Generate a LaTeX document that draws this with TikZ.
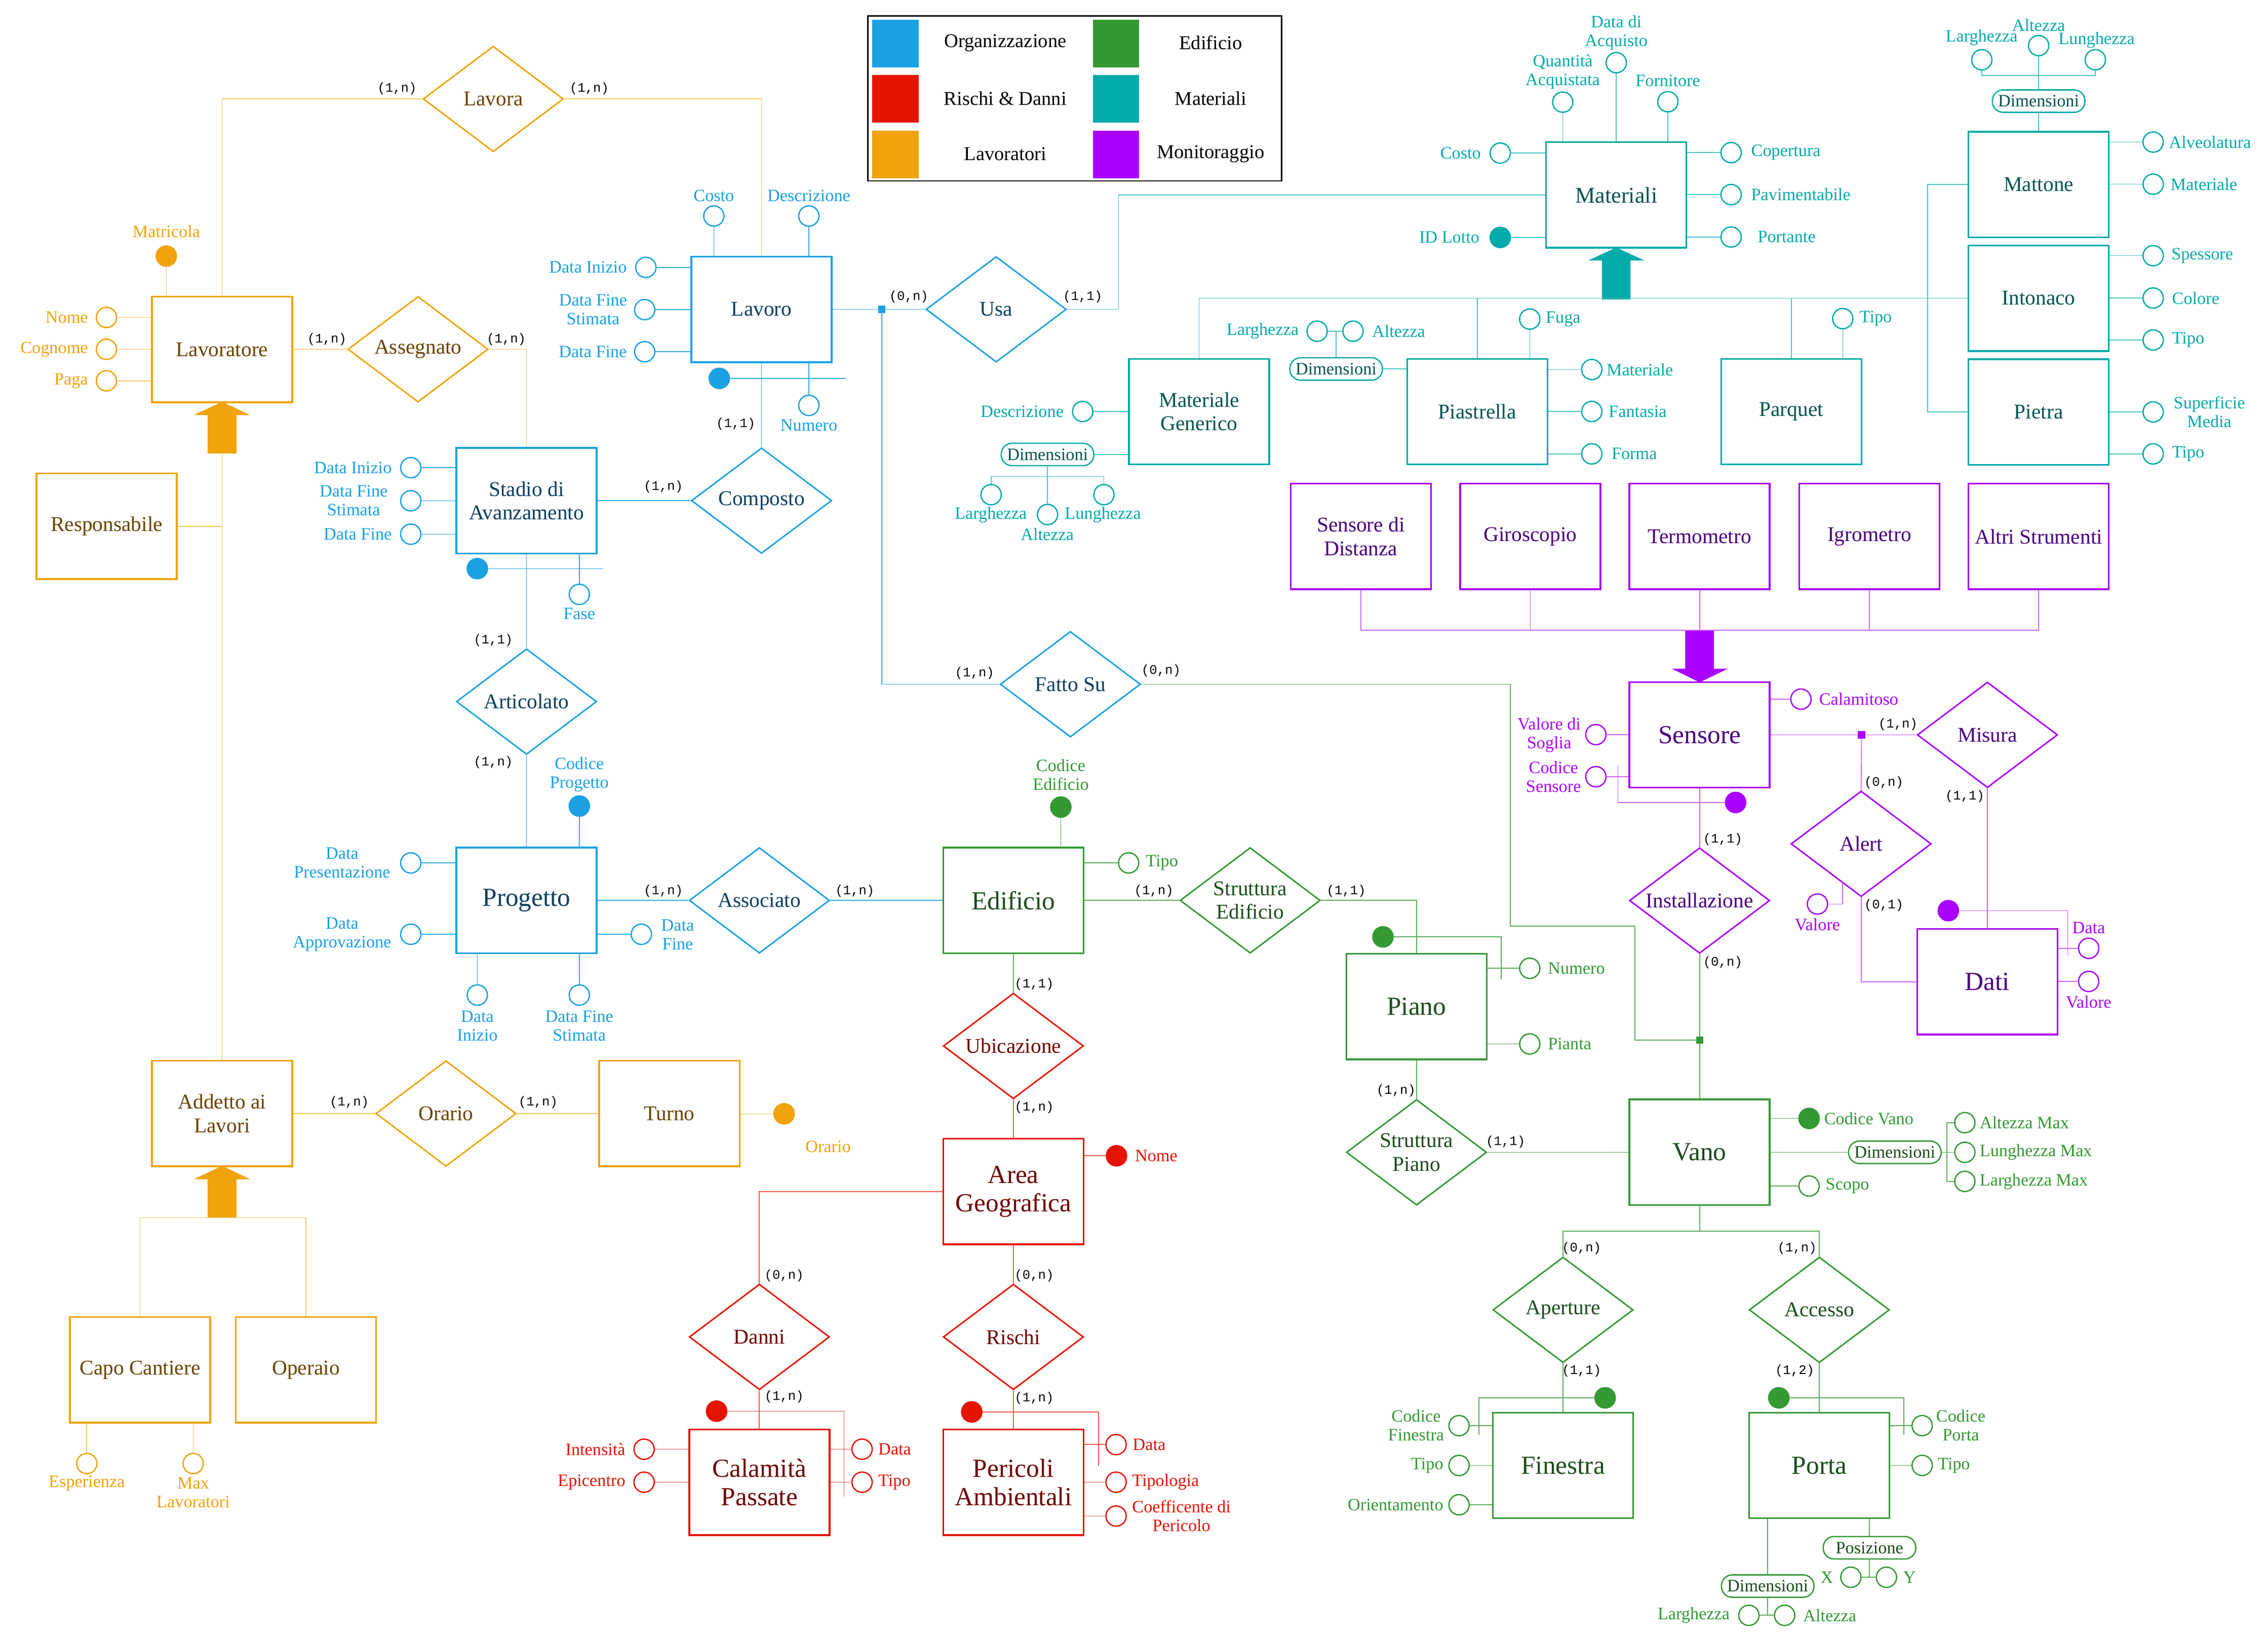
\documentclass[tikz,border=0pt]{standalone}
\usepackage{fontspec}
\setmainfont{Liberation Serif}
\newfontfamily\cardfont{Liberation Mono}
\usetikzlibrary{shapes.geometric}
\definecolor{cB}{HTML}{1BA1E2}
\definecolor{cBT}{HTML}{0D3F5F}
\definecolor{cO}{HTML}{F0A30A}
\definecolor{cOT}{HTML}{6B4300}
\definecolor{cR}{HTML}{E51400}
\definecolor{cRT}{HTML}{6F0000}
\definecolor{cG}{HTML}{339933}
\definecolor{cGT}{HTML}{1B4D1B}
\definecolor{cT}{HTML}{00ABA9}
\definecolor{cTT}{HTML}{005453}
\definecolor{cP}{HTML}{AA00FF}
\definecolor{cPT}{HTML}{4A0080}
\colorlet{cBL}{cB!90!white}
\colorlet{cOL}{cO!60!white}
\colorlet{cRL}{cR!70!white}
\colorlet{cGL}{cG!80!white}
\colorlet{cTL}{cT!70!white}
\colorlet{cPL}{cP!60!white}
\newcommand{\fEnt}{\fontsize{14.5}{16.2}\selectfont}
\newcommand{\fBig}{\fontsize{18}{19.6}\selectfont}
\newcommand{\fAtt}{\fontsize{12}{13}\selectfont}
\newcommand{\fCard}{\cardfont\fontsize{9}{10}\selectfont}
\newcommand{\fLeg}{\fontsize{13.5}{15}\selectfont}
\newcommand{\ERatt}[7]{\node[#1=#2] (#3) at (#4) {}; \node[lab=#2, anchor=#5] (#3L) at (#6) {#7};}
\tikzset{
 ent/.style={rectangle, draw=c#1, text=c#1T, line width=1.2pt, minimum width=97pt, minimum height=73pt, inner sep=0pt, align=center, font=\fEnt},
 big/.style={font=\fBig},
 rel/.style={diamond, draw=c#1, text=c#1T, line width=1pt, minimum width=97pt, minimum height=73pt, inner sep=0pt, aspect=1.33, align=center, font=\fEnt},
 att/.style={circle, draw=c#1, fill=white, line width=0.9pt, minimum size=14pt, inner sep=0pt},
 idf/.style={circle, draw=c#1, fill=c#1, line width=0.9pt, minimum size=14pt, inner sep=0pt},
 lab/.style={text=c#1, font=\fAtt, inner sep=0pt, align=center},
 dimb/.style={draw=c#1, text=c#1T, rounded corners=7.5pt, minimum width=64pt, minimum height=15.5pt, inner sep=0pt, line width=0.9pt, font=\fAtt},
 card/.style={font=\fCard, inner sep=0pt, text=black},
 ln/.style={draw=c#1L, line width=0.6pt},
 sq/.style={rectangle, fill=c#1, minimum size=5pt, inner sep=0pt},
 sw/.style={rectangle, fill=c#1, minimum width=32pt, minimum height=33pt, inner sep=0pt},
 leg/.style={font=\fLeg, inner sep=0pt, text=black},
}
\begin{document}
\begin{tikzpicture}[x=1pt,y=-1pt]
\fill[white] (0,0) rectangle (1568,1134);
\useasboundingbox (0,0) rectangle (1568,1134);

% ---------- legend
\node[draw=black, line width=1pt, minimum width=286pt, minimum height=114pt, inner sep=0pt] (legend) at (743,68) {};
\node[sw=B] (swB) at (619,30) {};
\node[sw=R] (swR) at (619,68.4) {};
\node[sw=O] (swO) at (619,106.9) {};
\node[sw=G] (swG) at (771.5,30) {};
\node[sw=T] (swT) at (771.5,68.4) {};
\node[sw=P] (swP) at (771.5,106.9) {};
\node[leg] (lgB) at (695,29.6) {Organizzazione};
\node[leg] (lgR) at (695,68) {Rischi \& Danni};
\node[leg] (lgO) at (695,106.5) {Lavoratori};
\node[leg] (lgG) at (837,29.6) {Edificio};
\node[leg] (lgT) at (837,68) {Materiali};
\node[leg] (lgP) at (837,106.5) {Monitoraggio};

% ---------- orange
\node[ent=O] (lavoratore) at (153.5,241.5) {Lavoratore};
\node[ent=O] (respons) at (73.7,363.7) {Responsabile};
\node[ent=O] (addetto) at (153.5,769.6) {Addetto ai\\Lavori};
\node[ent=O] (turno) at (462.8,769.6) {Turno};
\node[ent=O] (capo) at (96.8,946.8) {Capo Cantiere};
\node[ent=O] (operaio) at (211.5,946.8) {Operaio};
\node[rel=O] (lavora) at (341,68.4) {Lavora};
\node[rel=O] (assegnato) at (289,241.4) {Assegnato};
\node[rel=O] (orario) at (308.3,769.6) {Orario};

% ---------- blue
\node[ent=B] (lavoro) at (526.5,213.8) {Lavoro};
\node[ent=B] (stadio) at (364,346) {Stadio di\\Avanzamento};
\node[ent=B, big] (progetto) at (364,622.3) {Progetto};
\node[rel=B] (composto) at (526.5,346) {Composto};
\node[rel=B] (articolato) at (364,484.9) {Articolato};
\node[rel=B] (associato) at (525,622.3) {Associato};
\node[rel=B] (usa) at (688.7,213.8) {Usa};
\node[rel=B] (fattosu) at (740,472.9) {Fatto Su};

% ---------- green
\node[ent=G, big] (edificio) at (700.6,622.3) {Edificio};
\node[ent=G, big] (piano) at (979.3,695.7) {Piano};
\node[ent=G, big] (vano) at (1175,796.4) {Vano};
\node[ent=G, big] (finestra) at (1080.6,1012.8) {Finestra};
\node[ent=G, big] (porta) at (1257.8,1012.8) {Porta};
\node[rel=G] (strEd) at (864.3,622.3) {Struttura\\Edificio};
\node[rel=G] (strPiano) at (979.3,796.4) {Struttura\\Piano};
\node[rel=G] (aperture) at (1080.6,905.3) {Aperture};
\node[rel=G] (accesso) at (1257.8,905.3) {Accesso};

% ---------- red
\node[ent=R, big] (area) at (700.6,823.5) {Area\\Geografica};
\node[ent=R, big] (calamita) at (525,1024.4) {Calamità\\Passate};
\node[ent=R, big] (pericoli) at (700.6,1024.4) {Pericoli\\Ambientali};
\node[rel=R] (ubicazione) at (700.6,722.9) {Ubicazione};
\node[rel=R] (danni) at (525,924) {Danni};
\node[rel=R] (rischi) at (700.6,924) {Rischi};

% ---------- teal
\node[ent=T, font=\fontsize{15.5}{17}\selectfont] (materiali) at (1117.4,134.8) {Materiali};
\node[ent=T] (matgen) at (829,284.5) {Materiale\\Generico};
\node[ent=T] (piastrella) at (1021.3,284.5) {Piastrella};
\node[ent=T] (parquet) at (1238.4,284.5) {Parquet};
\node[ent=T] (mattone) at (1409.4,127.5) {Mattone};
\node[ent=T] (intonaco) at (1409.4,206.1) {Intonaco};
\node[ent=T] (pietra) at (1409.4,284.7) {Pietra};

% ---------- purple
\node[ent=P] (sdist) at (940.8,370.8) {Sensore di\\Distanza};
\node[ent=P] (giro) at (1058,370.8) {Giroscopio};
\node[ent=P] (termo) at (1175,370.8) {Termometro};
\node[ent=P] (igro) at (1292.4,370.8) {Igrometro};
\node[ent=P] (altri) at (1409.4,370.8) {Altri Strumenti};
\node[ent=P, big] (sensore) at (1175,507.9) {Sensore};
\node[ent=P, big] (dati) at (1374,678.5) {Dati};
\node[rel=P] (installazione) at (1175,622.4) {Installazione};
\node[rel=P] (misura) at (1374,507.9) {Misura};
\node[rel=P] (alert) at (1286.7,583.2) {Alert};

% ---------- attributes orange
\ERatt{idf}{O}{matricola}{115,177}{center}{115,160}{Matricola}
\ERatt{att}{O}{nome}{73.6,219.4}{east}{61,219.4}{Nome}
\ERatt{att}{O}{cognome}{73.6,241.4}{east}{61,241.4}{Cognome}
\ERatt{att}{O}{paga}{73.6,263.2}{east}{61,263.2}{Paga}
\ERatt{idf}{O}{orarioA}{542.1,769.8}{center}{572.5,792.4}{Orario}
\ERatt{att}{O}{esper}{60,1011.5}{center}{60,1025.2}{Esperienza}
\ERatt{att}{O}{maxlav}{133.6,1011.5}{center}{133.6,1031.6}{Max\\Lavoratori}

% ---------- attributes blue
\ERatt{att}{B}{costo}{493.5,149.3}{center}{493.5,135.4}{Costo}
\ERatt{att}{B}{descr}{559.2,149.3}{center}{559.2,135.4}{Descrizione}
\ERatt{att}{B}{lDI}{446.5,184.8}{east}{433.5,184.8}{Data Inizio}
\ERatt{att}{B}{lDFS}{445.7,214}{center}{410,214}{Data Fine\\Stimata}
\ERatt{att}{B}{lDF}{445.7,243.1}{east}{433.5,243.1}{Data Fine}
\ERatt{att}{B}{numero}{559.2,280.2}{center}{559.2,293.9}{Numero}
\node[idf=B] (lavId) at (497.3,261.5) {};
\ERatt{att}{B}{sDI}{284,323.2}{east}{271,323.2}{Data Inizio}
\ERatt{att}{B}{sDFS}{284,346.1}{center}{244.5,346}{Data Fine\\Stimata}
\ERatt{att}{B}{sDF}{284,369.2}{east}{271,369.2}{Data Fine}
\node[idf=B] (stId) at (330,393) {};
\ERatt{att}{B}{fase}{400.5,410.8}{center}{400.5,424.2}{Fase}
\ERatt{idf}{B}{codProg}{400.5,557.1}{center}{400.5,535.4}{Codice\\Progetto}
\ERatt{att}{B}{dPres}{284,596.4}{center}{236.5,596.4}{Data\\Presentazione}
\ERatt{att}{B}{dAppr}{284,645.7}{center}{236.5,645.9}{Data\\Approvazione}
\ERatt{att}{B}{pDF}{443.4,645.7}{center}{468.5,645.9}{Data\\Fine}
\ERatt{att}{B}{pDI}{330,687.7}{center}{330,709}{Data\\Inizio}
\ERatt{att}{B}{pDFS}{400.5,687.7}{center}{400.5,709}{Data Fine\\Stimata}

% ---------- attributes green
\ERatt{idf}{G}{codEd}{733.4,557.8}{center}{733.4,535.4}{Codice\\Edificio}
\ERatt{att}{G}{edTipo}{780.3,596.4}{west}{792,596.4}{Tipo}
\node[idf=G] (pianoId) at (956.1,647.5) {};
\ERatt{att}{G}{numP}{1057.6,669.2}{west}{1070,669.2}{Numero}
\ERatt{att}{G}{pianta}{1057.6,721.5}{west}{1070,721.5}{Pianta}
\ERatt{idf}{G}{codVano}{1250.7,773}{west}{1261,773}{Codice Vano}
\node[dimb=G] (dimV) at (1310,796.4) {Dimensioni};
\ERatt{att}{G}{altMax}{1358.4,775.9}{west}{1368.5,775.9}{Altezza Max}
\ERatt{att}{G}{lunMax}{1358.4,796.4}{west}{1368.5,796.4}{Lunghezza Max}
\ERatt{att}{G}{larMax}{1358.4,816.5}{west}{1368.5,816.5}{Larghezza Max}
\ERatt{att}{G}{scopo}{1250.7,819.7}{west}{1262,819.7}{Scopo}
\node[idf=G] (finId) at (1109.7,966.1) {};
\ERatt{att}{G}{codFin}{1008.7,985.3}{center}{979,985.2}{Codice\\Finestra}
\ERatt{att}{G}{finTipo}{1008.7,1012.8}{east}{998,1012.8}{Tipo}
\ERatt{att}{G}{orient}{1008.7,1040}{east}{998,1040}{Orientamento}
\node[idf=G] (portaId) at (1229.8,966.1) {};
\ERatt{att}{G}{codPorta}{1328.9,985.3}{center}{1355.6,985.2}{Codice\\Porta}
\ERatt{att}{G}{portaTipo}{1328.9,1012.8}{west}{1339.5,1012.8}{Tipo}
\node[dimb=G] (posiz) at (1292.5,1069.7) {Posizione};
\ERatt{att}{G}{px}{1279.6,1090.1}{center}{1263,1090.1}{X}
\ERatt{att}{G}{py}{1304.2,1090.1}{center}{1320.2,1090.1}{Y}
\node[dimb=G] (dimP) at (1222.1,1096.2) {Dimensioni};
\ERatt{att}{G}{plar}{1209.1,1116.4}{east}{1196,1116.4}{Larghezza}
\ERatt{att}{G}{palt}{1233.8,1116.4}{west}{1246.5,1116.4}{Altezza}

% ---------- attributes red
\ERatt{idf}{R}{nomeA}{771.9,798.8}{west}{784.5,798.8}{Nome}
\node[idf=R] (calId) at (495.4,975.3) {};
\ERatt{att}{R}{calData}{596,1001.6}{west}{607,1001.6}{Data}
\ERatt{att}{R}{calTipo}{596,1024.4}{west}{607,1024.4}{Tipo}
\ERatt{att}{R}{intens}{445.3,1001.6}{east}{432.5,1001.6}{Intensità}
\ERatt{att}{R}{epic}{445.3,1024.4}{east}{432.5,1024.4}{Epicentro}
\node[idf=R] (perId) at (671.8,975.8) {};
\ERatt{att}{R}{perData}{771.6,998.4}{west}{783,998.4}{Data}
\ERatt{att}{R}{tipol}{771.6,1024.4}{west}{782.5,1024.4}{Tipologia}
\ERatt{att}{R}{coeff}{771.6,1047.8}{center}{816.8,1047.6}{Coefficente di\\Pericolo}

% ---------- attributes teal
\ERatt{att}{T}{mCosto}{1037.2,105.8}{east}{1024,105.8}{Costo}
\ERatt{idf}{T}{idLotto}{1037.2,164.1}{east}{1023,164.1}{ID Lotto}
\ERatt{att}{T}{quant}{1080.4,70.6}{center}{1080.4,49.6}{Quantità\\Acquistata}
\ERatt{att}{T}{dataAcq}{1117.4,43.3}{center}{1117.4,22.6}{Data di\\Acquisto}
\ERatt{att}{T}{fornit}{1153.1,70.3}{center}{1153.1,55.8}{Fornitore}
\ERatt{att}{T}{copert}{1196.8,105.5}{west}{1210.5,105.5}{Copertura}
\ERatt{att}{T}{pavim}{1196.8,134.5}{west}{1210.5,134.5}{Pavimentabile}
\ERatt{att}{T}{portante}{1196.8,163.8}{west}{1215,163.8}{Portante}
\ERatt{att}{T}{mgDescr}{748.5,284.4}{east}{735.5,284.4}{Descrizione}
\node[dimb=T] (dimMG) at (724.2,314.1) {Dimensioni};
\ERatt{att}{T}{mgLar}{685.2,341.9}{center}{685,355.8}{Larghezza}
\ERatt{att}{T}{mgLun}{763.2,341.9}{center}{762.5,355.8}{Lunghezza}
\ERatt{att}{T}{mgAlt}{724.2,355.6}{center}{724,369.5}{Altezza}
\node[dimb=T] (dimPi) at (923.7,255) {Dimensioni};
\ERatt{att}{T}{piLar}{910.6,228.9}{east}{898,228.9}{Larghezza}
\ERatt{att}{T}{piAlt}{935.4,228.9}{west}{948.4,228.9}{Altezza}
\ERatt{att}{T}{fuga}{1057.6,220.5}{west}{1068.5,220.5}{Fuga}
\ERatt{att}{T}{piMat}{1100.5,255.4}{west}{1110.5,255.4}{Materiale}
\ERatt{att}{T}{fantasia}{1100.5,284.4}{west}{1112,284.4}{Fantasia}
\ERatt{att}{T}{forma}{1100.5,313.7}{west}{1114,313.7}{Forma}
\ERatt{att}{T}{parTipo}{1274,220.2}{west}{1285.5,220.2}{Tipo}
\node[dimb=T] (dimMa) at (1409.4,69.9) {Dimensioni};
\ERatt{att}{T}{maLar}{1370.1,41.3}{center}{1370,26}{Larghezza}
\ERatt{att}{T}{maAlt}{1409.4,31.5}{center}{1409.4,17.6}{Altezza}
\ERatt{att}{T}{maLun}{1448.6,41.3}{center}{1449.5,27.9}{Lunghezza}
\ERatt{att}{T}{alveo}{1488.6,98.2}{west}{1499.4,98.2}{Alveolatura}
\ERatt{att}{T}{maMat}{1488.6,127.3}{west}{1500.5,127.3}{Materiale}
\ERatt{att}{T}{spess}{1488.6,176.7}{west}{1501,176.7}{Spessore}
\ERatt{att}{T}{colore}{1488.6,206}{west}{1501.5,206}{Colore}
\ERatt{att}{T}{inTipo}{1488.6,235}{west}{1501.5,235}{Tipo}
\ERatt{att}{T}{superf}{1488.6,284.7}{center}{1527.4,284.6}{Superficie\\Media}
\ERatt{att}{T}{piTipo}{1488.6,313.7}{west}{1501.5,313.7}{Tipo}

% ---------- attributes purple
\ERatt{att}{P}{calam}{1245.1,483.2}{west}{1257.5,483.2}{Calamitoso}
\ERatt{att}{P}{soglia}{1103.3,507.7}{center}{1071,508}{Valore di\\Soglia}
\ERatt{att}{P}{codSens}{1103.3,536.8}{center}{1074,537}{Codice\\Sensore}
\node[idf=P] (sensId) at (1199.9,554.6) {};
\ERatt{att}{P}{alVal}{1256.5,624.8}{center}{1256.5,639}{Valore}
\node[idf=P] (datiId) at (1347,629.4) {};
\ERatt{att}{P}{datiData}{1444,655.4}{center}{1444,641.3}{Data}
\ERatt{att}{P}{datiVal}{1444,678.3}{center}{1444,692.4}{Valore}

% ---------- junction squares and coordinates
\node[sq=B] (jB) at (609.5,213.8) {};
\node[sq=G] (jG) at (1175,718.8) {};
\node[sq=P] (jP) at (1287,507.9) {};
\coordinate (gen1) at (153.5,313.4);
\coordinate (gen2) at (153.5,841.6);
\coordinate (tJ) at (1117.4,206.1);
\coordinate (tV) at (1332.6,206.1);
\coordinate (sJ) at (1175,435.7);
\coordinate (vJ) at (1175,850.8);
\coordinate (lavIdE) at (584.7,261.5);
\coordinate (stIdE) at (417.2,393);
\coordinate (piIdC) at (1037.8,677);
\coordinate (finIdC) at (1022.4,991.6);
\coordinate (poIdC) at (1316.2,991.6);
\coordinate (calIdC) at (583.5,1034.4);
\coordinate (perIdC) at (759.5,1013);
\coordinate (seIdC) at (1118.6,529.6);
\coordinate (daIdC) at (1429.5,660.3);
\coordinate (alVC) at (1273.8,609.6);
\coordinate (mgJ) at (724.2,329.3);
\coordinate (maJ) at (1409.4,52.2);
\coordinate (fs1) at (1044.2,472.9);
\coordinate (fs2) at (1130.3,640);

% ---------- generalisation arrows
\fill[cO] (143.5,313.4) -- (143.5,286.9) -- (134,286.9) -- (153.5,277.7) -- (173,286.9) -- (163.5,286.9) -- (163.5,313.4) -- cycle;
\fill[cO] (143.5,841.6) -- (143.5,815) -- (134,815) -- (153.5,805.8) -- (173,815) -- (163.5,815) -- (163.5,841.6) -- cycle;
\fill[cT] (1107.6,207) -- (1107.6,180) -- (1098,180) -- (1117.4,171.1) -- (1136.8,180) -- (1127.3,180) -- (1127.3,207) -- cycle;
\fill[cP] (1165.1,435.8) -- (1165.1,462.2) -- (1155.9,462.2) -- (1175,471.6) -- (1194.5,462.2) -- (1184.9,462.2) -- (1184.9,435.8) -- cycle;

% ---------- attribute connectors
\foreach \a in {nome,cognome,paga} \draw[ln=O] (\a) -- (\a -| lavoratore.west);
\draw[ln=O] (matricola) -- (matricola |- lavoratore.north);
\draw[ln=O] (orarioA) -- (orarioA -| turno.east);
\draw[ln=O] (esper) -- (esper |- capo.south);
\draw[ln=O] (maxlav) -- (maxlav |- capo.south);

\foreach \a in {costo,descr} \draw[ln=B] (\a) -- (\a |- lavoro.north);
\foreach \a in {lDI,lDFS,lDF} \draw[ln=B] (\a) -- (\a -| lavoro.west);
\draw[ln=B] (numero) -- (numero |- lavoro.south);
\draw[ln=B] (lavId) -- (lavIdE);
\foreach \a in {sDI,sDFS,sDF} \draw[ln=B] (\a) -- (\a -| stadio.west);
\draw[ln=B] (stId) -- (stIdE);
\draw[ln=B] (fase) -- (fase |- stadio.south);
\draw[ln=B] (codProg) -- (codProg |- progetto.north);
\foreach \a in {dPres,dAppr} \draw[ln=B] (\a) -- (\a -| progetto.west);
\draw[ln=B] (pDF) -- (pDF -| progetto.east);
\foreach \a in {pDI,pDFS} \draw[ln=B] (\a) -- (\a |- progetto.south);

\draw[ln=G] (codEd) -- (codEd |- edificio.north);
\draw[ln=G] (edTipo) -- (edTipo -| edificio.east);
\draw[ln=G] (pianoId) -| (piIdC);
\foreach \a in {numP,pianta} \draw[ln=G] (\a) -- (\a -| piano.east);
\foreach \a in {codVano,scopo} \draw[ln=G] (\a) -- (\a -| vano.east);
\draw[ln=G] (vano.east) -- (dimV.west);
\draw[ln=G] (dimV.east) -- (lunMax);
\draw[ln=G] (altMax.west) -- ++(-5,0) |- (larMax.west);
\draw[ln=G] (finId) -| (finIdC);
\foreach \a in {codFin,finTipo,orient} \draw[ln=G] (\a) -- (\a -| finestra.west);
\draw[ln=G] (portaId) -| (poIdC);
\foreach \a in {codPorta,portaTipo} \draw[ln=G] (\a) -- (\a -| porta.east);
\draw[ln=G] (posiz.north |- porta.south) -- (posiz.north);
\draw[ln=G] (posiz.south) -- (posiz.south |- px);
\draw[ln=G] (px) -- (py);
\draw[ln=G] (dimP.north |- porta.south) -- (dimP.north);
\draw[ln=G] (dimP.south) -- (dimP.south |- plar);
\draw[ln=G] (plar) -- (palt);

\draw[ln=R] (nomeA) -- (nomeA -| area.east);
\draw[ln=R] (calId) -| (calIdC);
\foreach \a in {calData,calTipo} \draw[ln=R] (\a) -- (\a -| calamita.east);
\foreach \a in {intens,epic} \draw[ln=R] (\a) -- (\a -| calamita.west);
\draw[ln=R] (perId) -| (perIdC);
\foreach \a in {perData,tipol,coeff} \draw[ln=R] (\a) -- (\a -| pericoli.east);

\foreach \a in {mCosto,idLotto} \draw[ln=T] (\a) -- (\a -| materiali.west);
\foreach \a in {quant,dataAcq,fornit} \draw[ln=T] (\a) -- (\a |- materiali.north);
\foreach \a in {copert,pavim,portante} \draw[ln=T] (\a) -- (\a -| materiali.east);
\draw[ln=T] (mgDescr) -- (mgDescr -| matgen.west);
\draw[ln=T] (dimMG.east) -- (dimMG.east -| matgen.west);
\draw[ln=T] (dimMG.south) -- (mgJ) -- (mgAlt);
\draw[ln=T] (mgLar) -- (mgLar |- mgJ) -- (mgLun |- mgJ) -- (mgLun);
\draw[ln=T] (dimPi.east) -- (dimPi.east -| piastrella.west);
\draw[ln=T] (dimPi.north) -- (dimPi.north |- piLar);
\draw[ln=T] (piLar) -- (piAlt);
\draw[ln=T] (fuga) -- (fuga |- piastrella.north);
\foreach \a in {piMat,fantasia,forma} \draw[ln=T] (\a) -- (\a -| piastrella.east);
\draw[ln=T] (parTipo) -- (parTipo |- parquet.north);
\draw[ln=T] (dimMa.south) -- (mattone.north);
\draw[ln=T] (dimMa.north) -- (maJ) -- (maAlt);
\draw[ln=T] (maLar) -- (maLar |- maJ) -- (maLun |- maJ) -- (maLun);
\foreach \a in {alveo,maMat} \draw[ln=T] (\a) -- (\a -| mattone.east);
\foreach \a in {spess,colore,inTipo} \draw[ln=T] (\a) -- (\a -| intonaco.east);
\foreach \a in {superf,piTipo} \draw[ln=T] (\a) -- (\a -| pietra.east);

\draw[ln=P] (calam) -- (calam -| sensore.east);
\foreach \a in {soglia,codSens} \draw[ln=P] (\a) -- (\a -| sensore.west);
\draw[ln=P] (sensId) -| (seIdC);
\draw[ln=P] (alVal) -| (alVC);
\draw[ln=P] (datiId) -| (daIdC);
\foreach \a in {datiData,datiVal} \draw[ln=P] (\a) -- (\a -| dati.east);

% ---------- relationship connectors
\draw[ln=O] (lavora.west) -| (lavoratore.north);
\draw[ln=O] (lavora.east) -| (lavoro.north);
\draw[ln=O] (lavoratore.east) -- (assegnato.west);
\draw[ln=O] (assegnato.east) -| (stadio.north);
\draw[ln=O] (gen1) -- (addetto.north);
\draw[ln=O] (respons.east) -- (respons.east -| gen1);
\draw[ln=O] (addetto.east) -- (orario.west);
\draw[ln=O] (orario.east) -- (turno.west);
\draw[ln=O] (capo.north) |- (operaio.north |- gen2) -- (operaio.north);

\draw[ln=B] (lavoro.east) -- (usa.west);
\draw[ln=B] (jB) |- (fattosu.west);
\draw[ln=T] (usa.east) -- ++(35.6,0) |- (materiali.west);
\draw[ln=B] (lavoro.south) -- (composto.north);
\draw[ln=B] (stadio.east) -- (composto.west);
\draw[ln=B] (stadio.south) -- (articolato.north);
\draw[ln=B] (articolato.south) -- (progetto.north);
\draw[ln=B] (progetto.east) -- (associato.west);
\draw[ln=B] (associato.east) -- (edificio.west);

\draw[ln=G] (fattosu.east) -- (fs1) |- (fs2) |- (jG);
\draw[ln=G] (edificio.east) -- (strEd.west);
\draw[ln=G] (strEd.east) -| (piano.north);
\draw[ln=G] (piano.south) -- (strPiano.north);
\draw[ln=G] (strPiano.east) -- (vano.west);
\draw[ln=P] (sensore.south) -- (installazione.north);
\draw[ln=G] (installazione.south) -- (vano.north);
\draw[ln=G] (vano.south) -- (vJ);
\draw[ln=G] (aperture.north) |- (vJ);
\draw[ln=G] (accesso.north) |- (vJ);
\draw[ln=G] (aperture.south) -- (finestra.north);
\draw[ln=G] (accesso.south) -- (porta.north);
\draw[ln=G] (edificio.south) -- (ubicazione.north);

\draw[ln=R] (ubicazione.south) -- (area.north);
\draw[ln=R] (area.west) -| (danni.north);
\draw[ln=R] (danni.south) -- (calamita.north);
\draw[ln=R] (area.south) -- (rischi.north);
\draw[ln=R] (rischi.south) -- (pericoli.north);

\draw[ln=T] (matgen.north) |- (tV);
\draw[ln=T] (piastrella.north) -- (piastrella.north |- tJ);
\draw[ln=T] (parquet.north) -- (parquet.north |- tJ);
\draw[ln=T] (mattone.west) -| (tV |- pietra.west) -- (pietra.west);
\draw[ln=T] (intonaco.west) -- (intonaco.west -| tV);

\draw[ln=P] (sdist.south) |- (altri.south |- sJ) -- (altri.south);
\foreach \s in {giro,termo,igro} \draw[ln=P] (\s.south) -- (\s.south |- sJ);
\draw[ln=P] (sensore.east) -- (misura.west);
\draw[ln=P] (jP) -- (alert.north);
\draw[ln=P] (misura.south) -- (dati.north);
\draw[ln=P] (alert.south) |- (dati.west);

% redraw junction squares on top
\node[sq=B] (jB2) at (jB) {};
\node[sq=G] (jG2) at (jG) {};
\node[sq=P] (jP2) at (jP) {};

% ---------- cardinalities
\node[card] (k1) at (274.5,61.4) {(1,n)};
\node[card] (k2) at (407.4,61.4) {(1,n)};
\node[card] (k3) at (226,234.4) {(1,n)};
\node[card] (k4) at (350,234.4) {(1,n)};
\node[card] (k5) at (241.5,762) {(1,n)};
\node[card] (k6) at (372,762) {(1,n)};
\node[card] (k7) at (628.3,205.1) {(0,n)};
\node[card] (k8) at (748.5,205.1) {(1,1)};
\node[card] (k9) at (508.7,293) {(1,1)};
\node[card] (k10) at (458.6,336.3) {(1,n)};
\node[card] (k11) at (341,442.5) {(1,1)};
\node[card] (k12) at (341,527) {(1,n)};
\node[card] (k13) at (458.6,616) {(1,n)};
\node[card] (k14) at (591,616) {(1,n)};
\node[card] (k15) at (673.8,465.3) {(1,n)};
\node[card] (k16) at (802.7,463.7) {(0,n)};
\node[card] (k17) at (797.7,616) {(1,n)};
\node[card] (k18) at (930.7,616) {(1,1)};
\node[card] (k19) at (965.2,754) {(1,n)};
\node[card] (k20) at (1040.9,789.3) {(1,1)};
\node[card] (k21) at (1191,580) {(1,1)};
\node[card] (k22) at (1191,665.2) {(0,n)};
\node[card] (k23) at (1093.4,862.7) {(0,n)};
\node[card] (k24) at (1242.4,862.7) {(1,n)};
\node[card] (k25) at (1093.4,947.4) {(1,1)};
\node[card] (k26) at (1240.8,947.4) {(1,2)};
\node[card] (k27) at (715,680.4) {(1,1)};
\node[card] (k28) at (715,765.4) {(1,n)};
\node[card] (k29) at (542.1,881.7) {(0,n)};
\node[card] (k30) at (542.1,965.3) {(1,n)};
\node[card] (k31) at (715,881.7) {(0,n)};
\node[card] (k32) at (715,966.3) {(1,n)};
\node[card] (k33) at (1312.2,500.6) {(1,n)};
\node[card] (k34) at (1302.4,540.8) {(0,n)};
\node[card] (k35) at (1358.4,550.4) {(1,1)};
\node[card] (k36) at (1302.4,625.6) {(0,1)};
\end{tikzpicture}
\end{document}
